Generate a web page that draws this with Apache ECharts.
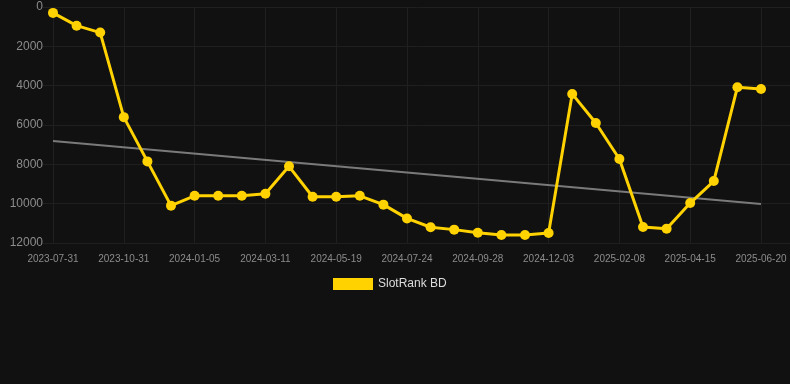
<!DOCTYPE html>
<html>
<head>
<meta charset="utf-8">
<script src="https://cdn.jsdelivr.net/npm/echarts@6/dist/echarts.min.js"></script>
<style>
  html, body { margin: 0; padding: 0; background: #111111; }
  #chart { width: 790px; height: 384px; }
</style>
</head>
<body>
<div id="chart"></div>
<script>
// dates (only every 3rd one is labelled on the axis)
const dates = [
  '2023-07-31', '2023-08-31', '2023-09-30', '2023-10-31', '2023-11-22', '2023-12-14',
  '2024-01-05', '2024-01-27', '2024-02-18', '2024-03-11', '2024-04-03', '2024-04-26',
  '2024-05-19', '2024-06-10', '2024-07-02', '2024-07-24', '2024-08-15', '2024-09-06',
  '2024-09-28', '2024-10-20', '2024-11-11', '2024-12-03', '2024-12-25', '2025-01-17',
  '2025-02-08', '2025-03-02', '2025-03-24', '2025-04-15', '2025-05-07', '2025-05-29',
  '2025-06-20'
];
const rankValues = [
  300, 950, 1300, 5600, 7850, 10100,
  9600, 9600, 9600, 9500, 8100, 9650,
  9650, 9600, 10050, 10750, 11200, 11320,
  11480, 11590, 11590, 11490, 4420, 5900,
  7730, 11190, 11270, 9970, 8850, 4080,
  4170
];
// trend line: value at first and last date
const trendEnds = [6810, 10020];
const yTicks = { min: 0, max: 12000, step: 2000 };

const gridColor = '#1f1f1f';
const labelColor = '#8c8c8c';

const trendData = dates.map((d, i) => {
  if (i === 0) return trendEnds[0];
  if (i === dates.length - 1) return trendEnds[1];
  return null;
});

const chart = echarts.init(document.getElementById('chart'));

const option = {
  backgroundColor: '#111111',
  animation: false,
  legend: {
    left: 328,
    top: 273,
    icon: 'rect',
    itemWidth: 40,
    itemHeight: 12,
    itemGap: 10,
    textStyle: { color: '#dddddd', fontSize: 12, fontFamily: 'Liberation Sans, Arial, sans-serif' },
    data: ['SlotRank BD']
  },
  grid: [
    { left: 53, right: 29, top: 7, bottom: 141 },
    // wider grid only for the horizontal grid lines
    { left: 43, right: 0, top: 7, bottom: 141 }
  ],
  xAxis: [
    {
      type: 'category',
      gridIndex: 0,
      data: dates,
      boundaryGap: false,
      axisLine: { show: false },
      axisTick: { show: true, interval: 2, length: 7, lineStyle: { color: gridColor } },
      axisLabel: {
        interval: 2,
        color: labelColor,
        fontSize: 10,
        margin: 11,
        fontFamily: 'Liberation Sans, Arial, sans-serif'
      },
      splitLine: { show: true, interval: 2, lineStyle: { color: gridColor, width: 1 } }
    },
    { type: 'value', gridIndex: 1, show: false, min: 0, max: 1 }
  ],
  yAxis: [
    {
      type: 'value',
      gridIndex: 0,
      inverse: true,
      min: yTicks.min,
      max: yTicks.max,
      interval: yTicks.step,
      axisLine: { show: false },
      axisTick: { show: false },
      splitLine: { show: false },
      axisLabel: {
        color: labelColor,
        fontSize: 12,
        margin: 10,
        formatter: (v) => String(v),
        fontFamily: 'Liberation Sans, Arial, sans-serif'
      }
    },
    {
      type: 'value',
      gridIndex: 1,
      inverse: true,
      min: yTicks.min,
      max: yTicks.max,
      interval: yTicks.step,
      axisLine: { show: false },
      axisTick: { show: false },
      axisLabel: { show: false },
      splitLine: { show: true, lineStyle: { color: gridColor, width: 1 } }
    }
  ],
  series: [
    {
      name: 'Trend',
      type: 'line',
      xAxisIndex: 0,
      yAxisIndex: 0,
      data: trendData,
      connectNulls: true,
      showSymbol: false,
      symbol: 'none',
      lineStyle: { color: '#7a7a7a', width: 2 },
      silent: true,
      z: 1
    },
    {
      name: 'SlotRank BD',
      type: 'line',
      xAxisIndex: 0,
      yAxisIndex: 0,
      data: rankValues,
      symbol: 'circle',
      symbolSize: 10,
      itemStyle: { color: '#ffd200' },
      lineStyle: { color: '#ffd200', width: 3 },
      z: 3
    }
  ]
};

chart.setOption(option);
</script>
</body>
</html>
